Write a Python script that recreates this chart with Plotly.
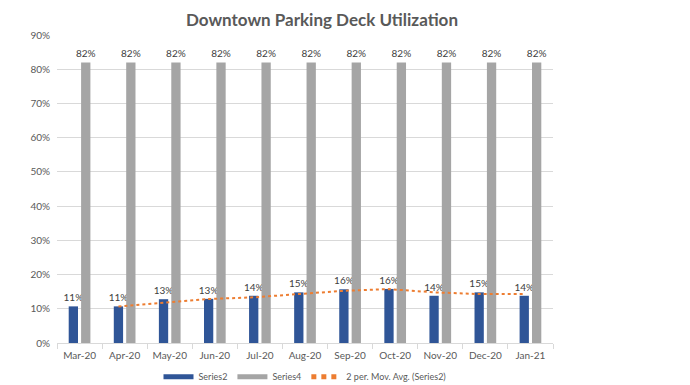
import plotly.graph_objects as go

months = ["Mar-20", "Apr-20", "May-20", "Jun-20", "Jul-20", "Aug-20",
          "Sep-20", "Oct-20", "Nov-20", "Dec-20", "Jan-21"]
series2 = [0.107, 0.107, 0.128, 0.129, 0.138, 0.148, 0.157, 0.158, 0.138, 0.148, 0.138]
series4 = [0.82] * 11
y_ticks = [0, 0.1, 0.2, 0.3, 0.4, 0.5, 0.6, 0.7, 0.8, 0.9]

# 2-period moving average of Series2 (trendline)
mov_avg = [None] + [(series2[i - 1] + series2[i]) / 2 for i in range(1, len(series2))]

FONT = "Lato"
TXT = "#595959"
BLUE = "#2F5597"
GREY = "#A5A5A5"
ORANGE = "#ED7D31"

fig = go.Figure()
fig.add_trace(go.Bar(
    x=months, y=series2, name="Series2", marker_color=BLUE,
    marker_line_width=0, offsetgroup="s2", showlegend=False,
    text=[f"{v:.0%}" for v in series2], textposition="outside",
    textfont=dict(family=FONT, size=10, color="#404040"), constraintext="none",
    cliponaxis=False,
))
fig.add_trace(go.Bar(
    x=months, y=series4, name="Series4", marker_color=GREY,
    marker_line_width=0, offsetgroup="s4", showlegend=False,
    text=[f"{v:.0%}" for v in series4], textposition="outside",
    textfont=dict(family=FONT, size=10, color="#404040"), constraintext="none",
    cliponaxis=False,
))
fig.add_trace(go.Scatter(
    x=months, y=mov_avg, name="2 per. Mov. Avg. (Series2)", mode="lines",
    line=dict(color=ORANGE, width=2, dash="dot"), offsetgroup="s2", showlegend=False,
))
# legend entries (wide flat swatches like the original)
for nm, col, w, dash in [("Series2", BLUE, 6, "solid"), ("Series4", GREY, 6, "solid"),
                         ("2 per. Mov. Avg. (Series2)", ORANGE, 1.5, "dot")]:
    fig.add_trace(go.Scatter(x=[None], y=[None], mode="lines", name=nm,
                             line=dict(color=col, width=w, dash=dash)))

fig.update_layout(
    width=682, height=377,
    paper_bgcolor="white", plot_bgcolor="white",
    margin=dict(l=49, r=137, t=27, b=42),
    barmode="group", bargap=0.45, bargroupgap=0.25,
    scattermode="group",
    title=dict(text="<b>Downtown Parking Deck Utilization</b>", x=314 / 682, xanchor="center",
               y=0.985, yanchor="top", pad=dict(t=0, b=0),
               font=dict(family=FONT, size=17, color=TXT)),
    font=dict(family=FONT, size=10, color=TXT),
    showlegend=True,
    legend=dict(orientation="h", x=0.5, xanchor="center", yref="container",
                y=0.022, yanchor="middle",
                font=dict(family=FONT, size=9, color=TXT), tracegroupgap=0,
                itemsizing="constant"),
    xaxis=dict(type="category", showgrid=False, showline=True, linecolor="#D9D9D9",
               ticks="outside", tickson="boundaries", ticklen=5, tickcolor="#D9D9D9",
               ticklabelstandoff=3,
               tickfont=dict(family=FONT, size=10, color=TXT), automargin=False),
    yaxis=dict(range=[0, 0.9], tickvals=y_ticks, tickformat=".0%", showgrid=True,
               gridcolor="#D9D9D9", zeroline=False, showline=False, automargin=False,
               ticklabelstandoff=6,
               tickfont=dict(family=FONT, size=10, color=TXT)),
)

fig.write_html("out.html")
